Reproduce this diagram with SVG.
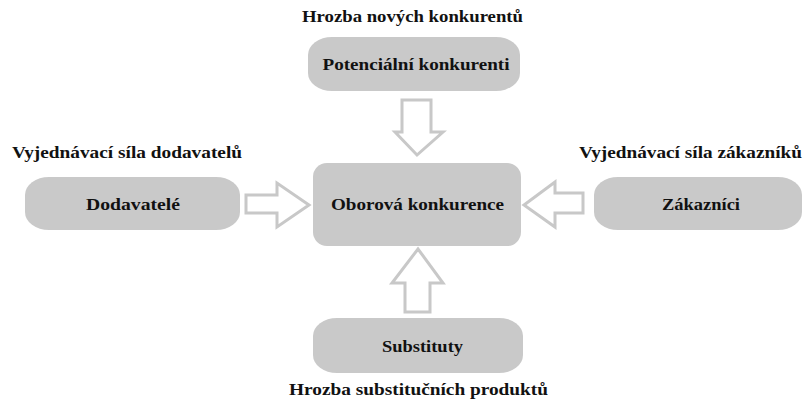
<svg xmlns="http://www.w3.org/2000/svg" width="805" height="402" viewBox="0 0 805 402">
<style>
.box{fill:#c9c9c9;}
.arr{fill:#ffffff;stroke:#c8c8c8;stroke-width:3;stroke-linejoin:miter;}
.t{font-family:'Liberation Serif','Times New Roman',serif;font-weight:700;fill:#111;font-size:17px;}
.in{text-anchor:middle;}
</style>
<rect width="805" height="402" fill="#ffffff"/>
<g id="connectors">
<path class="arr" d="M402,100 H431 V132 H443 L417,155 L395,132 H402 Z"/>
<path class="arr" d="M405,312 H430 V283 H443 L418,249 L392,283 H405 Z"/>
<path class="arr" d="M246,195 H277 V183 L309,205 L277,227 V213 H246 Z"/>
<path class="arr" d="M583,193 H555 V182 L524,205 L555,227 V213 H583 Z"/>
</g>
<g id="label-top"><text class="t" x="302" y="22" textLength="221" lengthAdjust="spacingAndGlyphs">Hrozba nových konkurentů</text></g>
<g id="node-potencialni">
<rect class="box" x="308" y="37" width="212" height="54" rx="24" ry="18"/>
<text class="t in" x="416" y="70" textLength="187" lengthAdjust="spacingAndGlyphs">Potenciální konkurenti</text>
</g>
<g id="label-left"><text class="t" x="12" y="158" textLength="230" lengthAdjust="spacingAndGlyphs">Vyjednávací síla dodavatelů</text></g>
<g id="node-dodavatele">
<rect class="box" x="25" y="177" width="215" height="53" rx="24" ry="18"/>
<text class="t in" x="133" y="210" textLength="94" lengthAdjust="spacingAndGlyphs">Dodavatelé</text>
</g>
<g id="node-oborova">
<rect class="box" x="313" y="163" width="208" height="83" rx="14" ry="14"/>
<text class="t in" x="417.5" y="210" textLength="173" lengthAdjust="spacingAndGlyphs">Oborová konkurence</text>
</g>
<g id="label-right"><text class="t" x="579" y="158" textLength="223" lengthAdjust="spacingAndGlyphs">Vyjednávací síla zákazníků</text></g>
<g id="node-zakaznici">
<rect class="box" x="594" y="177" width="208" height="53" rx="24" ry="18"/>
<text class="t in" x="701" y="210" textLength="78" lengthAdjust="spacingAndGlyphs">Zákazníci</text>
</g>
<g id="node-substituty">
<rect class="box" x="313" y="318" width="210" height="55" rx="24" ry="18"/>
<text class="t in" x="422.5" y="352" textLength="81" lengthAdjust="spacingAndGlyphs">Substituty</text>
</g>
<g id="label-bottom"><text class="t" x="289" y="395" textLength="259" lengthAdjust="spacingAndGlyphs">Hrozba substitučních produktů</text></g>
</svg>
